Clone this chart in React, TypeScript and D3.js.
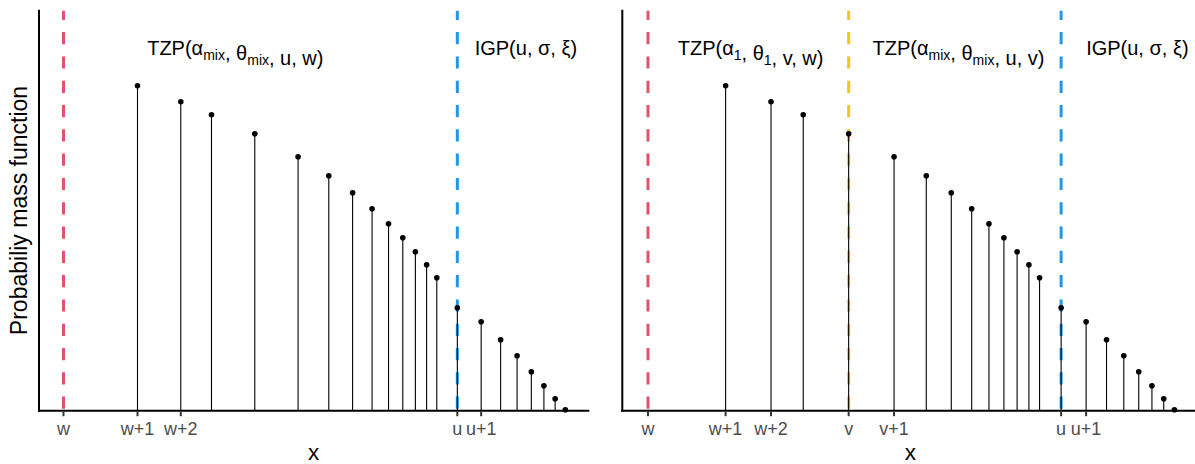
import React, { useEffect, useRef } from "react";
import * as d3 from "d3";

// pmf values (same in both panels)
const xValues = [2, 3, 4, 6, 9, 12, 15, 18, 21, 24, 27, 30, 33, 40, 50, 60, 70, 80, 90, 100, 110];
const pmfValues = [
  0.0325, 0.0309, 0.0296, 0.0277, 0.0254, 0.0235, 0.0218, 0.0202, 0.0187, 0.0173, 0.0159,
  0.0146, 0.0133, 0.0103, 0.0089, 0.0071, 0.0055, 0.0039, 0.0025, 0.0012, 0.0001,
];

const leftTicks = [1, 2, 3, 40, 50];
const leftTickLabels = ["w", "w+1", "w+2", "u", "u+1"];
const rightTicks = [1, 2, 3, 6, 9, 40, 50];
const rightTickLabels = ["w", "w+1", "w+2", "v", "v+1", "u", "u+1"];

const leftThresholds = [1, 40];
const leftThresholdColors = ["#DF536B", "#2297E6"];
const rightThresholds = [1, 6, 40];
const rightThresholdColors = ["#DF536B", "#F5C710", "#2297E6"];

// each label is a list of [normal text, subscript]
const leftLabels: [string, string][][] = [
  [["TZP(α", "mix"], [", θ", "mix"], [", u, w)", ""]],
  [["IGP(u, σ, ξ)", ""]],
];
const leftLabelX = [5, 76];
const rightLabels: [string, string][][] = [
  [["TZP(α", "1"], [", θ", "1"], [", v, w)", ""]],
  [["TZP(α", "mix"], [", θ", "mix"], [", u, v)", ""]],
  [["IGP(u, σ, ξ)", ""]],
];
const rightLabelX = [2.5, 16, 79];

const FONT = "'Liberation Sans', Arial, Helvetica, sans-serif";

type Panel = {
  left: number;
  right: number;
  ticks: number[];
  tickLabels: string[];
  thresholds: number[];
  colors: string[];
  labels: [string, string][][];
  labelX: number[];
};

const panels: Panel[] = [
  {
    left: 39,
    right: 588.3,
    ticks: leftTicks,
    tickLabels: leftTickLabels,
    thresholds: leftThresholds,
    colors: leftThresholdColors,
    labels: leftLabels,
    labelX: leftLabelX,
  },
  {
    left: 622.3,
    right: 1198.5,
    ticks: rightTicks,
    tickLabels: rightTickLabels,
    thresholds: rightThresholds,
    colors: rightThresholdColors,
    labels: rightLabels,
    labelX: rightLabelX,
  },
];

export default function App() {
  const svgRef = useRef<SVGSVGElement | null>(null);

  useEffect(() => {
    const svg = d3.select(svgRef.current);
    svg.selectAll("*").remove();

    const top = 10.7;
    const bottom = 410.7;
    const yScale = d3.scaleLinear().domain([0, 0.04]).range([bottom, top]);
    const data = xValues.map((x, i) => ({ x, p: pmfValues[i] }));

    panels.forEach((panel) => {
      const xScale = d3.scaleLog().domain([0.795, 136.4]).range([panel.left, panel.right]);
      const g = svg.append("g");

      // threshold lines
      g.selectAll(".vline")
        .data(panel.thresholds)
        .join("line")
        .attr("x1", (d) => xScale(d))
        .attr("x2", (d) => xScale(d))
        .attr("y1", top)
        .attr("y2", bottom)
        .attr("stroke", (d, i) => panel.colors[i])
        .attr("stroke-width", 3)
        .attr("stroke-dasharray", "12.2 12.1")
        .attr("stroke-dashoffset", 2.9);

      // stems
      g.selectAll(".stem")
        .data(data)
        .join("line")
        .attr("x1", (d) => xScale(d.x))
        .attr("x2", (d) => xScale(d.x))
        .attr("y1", yScale(0))
        .attr("y2", (d) => yScale(d.p))
        .attr("stroke", "#000")
        .attr("stroke-width", 1.1);

      g.selectAll(".pt")
        .data(data)
        .join("circle")
        .attr("cx", (d) => xScale(d.x))
        .attr("cy", (d) => yScale(d.p))
        .attr("r", 2.8)
        .attr("fill", "#000");

      // axes
      g.append("line")
        .attr("x1", panel.left)
        .attr("x2", panel.right)
        .attr("y1", bottom)
        .attr("y2", bottom)
        .attr("stroke", "#000")
        .attr("stroke-width", 2)
        .attr("stroke-linecap", "square");
      g.append("line")
        .attr("x1", panel.left)
        .attr("x2", panel.left)
        .attr("y1", top)
        .attr("y2", bottom)
        .attr("stroke", "#000")
        .attr("stroke-width", 2)
        .attr("stroke-linecap", "square");

      g.selectAll(".tick")
        .data(panel.ticks)
        .join("line")
        .attr("x1", (d) => xScale(d))
        .attr("x2", (d) => xScale(d))
        .attr("y1", bottom + 1)
        .attr("y2", bottom + 5.5)
        .attr("stroke", "#333333")
        .attr("stroke-width", 2);

      g.selectAll(".ticklabel")
        .data(panel.ticks)
        .join("text")
        .attr("x", (d) => xScale(d))
        .attr("y", 435)
        .attr("text-anchor", "middle")
        .attr("font-family", FONT)
        .attr("font-size", 18)
        .attr("fill", "#4D4D4D")
        .text((d, i) => panel.tickLabels[i]);

      // x title
      g.append("text")
        .attr("x", (panel.left + panel.right) / 2)
        .attr("y", 460)
        .attr("text-anchor", "middle")
        .attr("font-family", FONT)
        .attr("font-size", 22.5)
        .attr("fill", "#000")
        .text("x");

      // region labels
      panel.labels.forEach((parts, i) => {
        const t = g
          .append("text")
          .attr("x", xScale(panel.labelX[i]))
          .attr("y", 55)
          .attr("text-anchor", "middle")
          .attr("font-family", FONT)
          .attr("font-size", 20)
          .attr("fill", "#000");
        parts.forEach(([main, sub]) => {
          t.append("tspan").attr("dy", 0).text(main);
          if (sub) {
            t.append("tspan").attr("dy", 5).attr("font-size", 14).text(sub);
            t.append("tspan").attr("dy", -5).text("");
          }
        });
      });
    });

    svg
      .append("text")
      .attr("transform", "translate(26.5,210.5) rotate(-90)")
      .attr("text-anchor", "middle")
      .attr("font-family", FONT)
      .attr("font-size", 23)
      .attr("fill", "#000")
      .text("Probabiliy mass function");
  }, []);

  return (
    <svg
      ref={svgRef}
      width={1195}
      height={464}
      style={{ position: "absolute", left: 0, top: 0, background: "#fff" }}
    />
  );
}
